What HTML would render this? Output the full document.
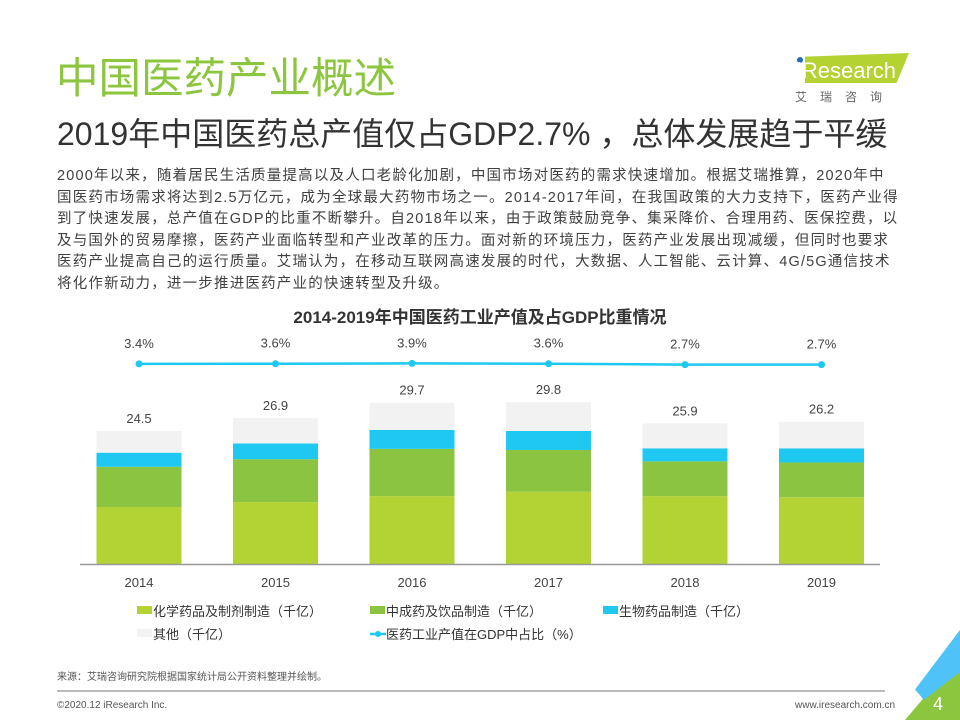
<!DOCTYPE html>
<html><head><meta charset="utf-8">
<style>
body{margin:0;width:960px;height:720px;overflow:hidden;background:#fff;font-family:"Liberation Sans","Noto Sans CJK SC",sans-serif;position:relative}
.abs{position:absolute}
.pl{white-space:nowrap;display:block}
</style></head><body>
<div class="abs" style="left:56px;top:54px;font-size:42.5px;color:#8cc63f;line-height:52px">中国医药产业概述</div>
<div class="abs" style="left:57px;top:114px;font-size:32px;color:#333;line-height:40px">2019年中国医药总产值仅占GDP2.7% ，总体发展趋于平缓</div>
<div class="abs" style="left:795px;top:50px;width:120px;height:60px">
 <div style="position:absolute;left:10px;top:3px;width:104px;height:30px;background:#b4d232;clip-path:polygon(0 12%,100% 0,88% 100%,0 100%)"></div>
 <div style="position:absolute;width:6px;height:6px;border-radius:50%;background:#1e6fb8;top:7px;left:2px"></div>
 <div style="position:absolute;left:2px;top:7px;font-size:22px;color:#fff;line-height:28px">iResearch</div>
 <div style="position:absolute;left:0;top:38px;font-size:12px;color:#666;letter-spacing:13px;font-family:'Noto Sans CJK SC',sans-serif">艾瑞咨询</div>
</div>
<div class="abs" style="left:57px;top:166px;width:880px;font-size:14.5px;color:#404040;line-height:21.5px;letter-spacing:1.2px">
<span class="pl">2000年以来，随着居民生活质量提高以及人口老龄化加剧，中国市场对医药的需求快速增加。根据艾瑞推算，2020年中</span>
<span class="pl">国医药市场需求将达到2.5万亿元，成为全球最大药物市场之一。2014-2017年间，在我国政策的大力支持下，医药产业得</span>
<span class="pl">到了快速发展，总产值在GDP的比重不断攀升。自2018年以来，由于政策鼓励竞争、集采降价、合理用药、医保控费，以</span>
<span class="pl">及与国外的贸易摩擦，医药产业面临转型和产业改革的压力。面对新的环境压力，医药产业发展出现减缓，但同时也要求</span>
<span class="pl">医药产业提高自己的运行质量。艾瑞认为，在移动互联网高速发展的时代，大数据、人工智能、云计算、4G/5G通信技术</span>
<span class="pl">将化作新动力，进一步推进医药产业的快速转型及升级。</span>
</div>
<div class="abs" style="left:0;width:960px;text-align:center;top:303px;font-size:17px;font-weight:bold;color:#333">2014-2019年中国医药工业产值及占GDP比重情况</div>
<svg id="chart" class="abs" style="left:0;top:0" width="960" height="720"></svg>
<div class="abs" style="left:57px;top:668px;font-size:10px;color:#555">来源：艾瑞咨询研究院根据国家统计局公开资料整理并绘制。</div>
<div class="abs" style="left:57px;top:690px;width:828px;height:2px;background:#bbb"></div>
<div class="abs" style="left:57px;top:700px;font-size:10px;color:#555">©2020.12 iResearch Inc.</div>
<div class="abs" style="left:795px;top:700px;font-size:10px;color:#555">www.iresearch.com.cn</div>
<div class="abs" style="left:905px;top:655px;width:55px;height:65px;background:#8cc63f;clip-path:polygon(100% 0,100% 100%,0 100%)"></div>
<div class="abs" style="left:915px;top:630px;width:45px;height:70px;background:#4fc3f7;clip-path:polygon(100% 0,100% 60%,20% 100%,0 85%)"></div>
<div class="abs" style="left:933px;top:694px;font-size:18px;color:#fff">4</div>
<script>
const years=['2014','2015','2016','2017','2018','2019'];
const chem=[10.5,11.4,12.5,13.3,12.5,12.3];
const tcm=[7.4,7.9,8.7,7.7,6.4,6.4];
const bio=[2.6,2.9,3.5,3.5,2.4,2.6];
const other=[4.0,4.7,5.0,5.3,4.6,4.9];
const totals=[24.5,26.9,29.7,29.8,25.9,26.2];
const pct=[3.4,3.6,3.9,3.6,2.7,2.7];
const pctLabels=['3.4%','3.6%','3.9%','3.6%','2.7%','2.7%'];
const svg=document.getElementById('chart');
const NS='http://www.w3.org/2000/svg';
const base=564, k=5.43, x0=139, step=136.5, bw=85;
const xs=i=>x0+i*step;
const ys=v=>base-v*k;
const yp=v=>364-(v-3.3)*1;
function mk(t,a){const e=document.createElementNS(NS,t);for(const n in a)e.setAttribute(n,a[n]);svg.appendChild(e);return e;}
const series=[[chem,'#b3d334','bar-chem'],[tcm,'#8bc441','bar-tcm'],[bio,'#1ec8f0','bar-bio'],[other,'#f2f2f2','bar-other']];
years.forEach((y,i)=>{
 let acc=0;
 series.forEach(([arr,c,nm])=>{
  const r=mk('rect',{x:xs(i)-bw/2,y:ys(acc+arr[i]),width:bw,height:arr[i]*k,fill:c});
  
  
  acc+=arr[i];
 });
 const t=mk('text',{x:xs(i),y:ys(totals[i])-8,'text-anchor':'middle','font-size':13,fill:'#444'});
 t.textContent=totals[i].toFixed(1);
 
 
 const xl=mk('text',{x:xs(i),y:587,'text-anchor':'middle','font-size':13,fill:'#444'});
 xl.textContent=y;
 
 
});
const ax=mk('line',{x1:80,x2:880,y1:base+0.5,y2:base+0.5,stroke:'#999','stroke-width':1.5});


const pl=mk('polyline',{points:pct.map((v,i)=>xs(i)+','+yp(v)).join(' '),fill:'none',stroke:'#1ec8f0','stroke-width':2.5});


pct.forEach((v,i)=>{
 const c=mk('circle',{cx:xs(i),cy:yp(v),r:3.5,fill:'#1ec8f0'});
 
 
 const t=mk('text',{x:xs(i),y:yp(v)-16,'text-anchor':'middle','font-size':13,fill:'#444'});
 t.textContent=pctLabels[i];
 
 
});
const leg=[['化学药品及制剂制造（千亿）','#b3d334',137,611,'rect'],['中成药及饮品制造（千亿）','#8bc441',370,611,'rect'],['生物药品制造（千亿）','#1ec8f0',603,611,'rect'],['其他（千亿）','#f2f2f2',137,634,'rect'],['医药工业产值在GDP中占比（%）','#1ec8f0',370,634,'line']];
leg.forEach(([lab,c,x,y,type],i)=>{
 if(type==='rect'){const r=mk('rect',{x:x,y:y-5,width:15,height:8,fill:c});}
 else{const l=mk('line',{x1:x,x2:x+16,y1:y,y2:y,stroke:c,'stroke-width':2.5});
  const cc=mk('circle',{cx:x+8,cy:y,r:3,fill:c});}
 const t=mk('text',{x:x+16,y:y+5,'font-size':13,fill:'#333'});
 t.textContent=lab;
 
 
});
</script>
</body></html>
